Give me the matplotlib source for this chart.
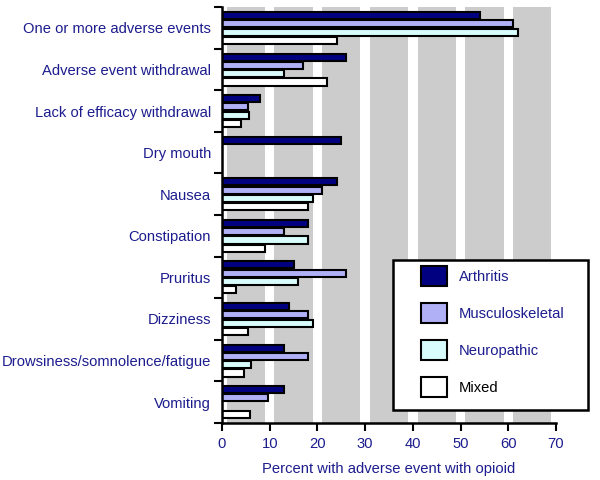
import matplotlib
matplotlib.use("Agg")
import matplotlib.pyplot as plt
import numpy as np
from matplotlib.patches import Patch, Rectangle

categories = ["One or more adverse events", "Adverse event withdrawal",
              "Lack of efficacy withdrawal", "Dry mouth", "Nausea", "Constipation",
              "Pruritus", "Dizziness", "Drowsiness/somnolence/fatigue", "Vomiting"]
arthritis = [54, 26, 8, 25, 24, 18, 15, 14, 13, 13]
musculoskeletal = [61, 17, 5.5, 0, 21, 13, 26, 18, 18, 9.7]
neuropathic = [62, 13, 5.7, 0, 19, 18, 16, 19, 6, 0]
mixed = [24, 22, 4, 0, 18, 9, 3, 5.5, 4.7, 5.8]
series_names = ["Arthritis", "Musculoskeletal", "Neuropathic", "Mixed"]
x_ticks = [0, 10, 20, 30, 40, 50, 60, 70]

plt.rcParams['font.family'] = ['Liberation Sans', 'DejaVu Sans']
navy = '#1c1c8e'
colors = ['#000080', '#b0b0f6', '#d8fcfc', '#ffffff']

fig = plt.figure(figsize=(6, 4.8), dpi=100)
ax = fig.add_axes([0.37, 0.119, 0.5567, 0.866])

# background stripes
for s in range(0, 70, 10):
    ax.axvspan(s + 1, s + 9, color='#cccccc', lw=0, zorder=0)

y = np.arange(len(categories))
data = [arthritis, musculoskeletal, neuropathic, mixed]
offsets = [-0.3, -0.1, 0.1, 0.3]
for vals, off, c, name in zip(data, offsets, colors, series_names):
    v = np.array(vals, dtype=float)
    mask = v > 0
    ax.barh(y[mask] + off, v[mask], height=0.17, color=c, edgecolor='black',
            linewidth=1.5, zorder=3, label=name)

ax.set_xlim(0, 70)
ax.set_ylim(len(categories) - 0.5, -0.5)
ax.set_xticks(x_ticks)
ax.set_xticklabels([str(t) for t in x_ticks], color=navy, fontsize=10.6)
ax.set_yticks(np.arange(len(categories) + 1) - 0.5)
ax.set_yticklabels([])
ax.set_yticks(y, minor=True)
ax.set_yticklabels(categories, minor=True, color=navy, fontsize=10.6)
ax.tick_params(axis='y', which='minor', length=0, pad=8)
ax.tick_params(axis='y', which='major', length=6, width=1.5, direction='out')
ax.tick_params(axis='x', length=6, width=1.5, direction='out', pad=4)
for side in ['top', 'right']:
    ax.spines[side].set_visible(False)
for side in ['left', 'bottom']:
    ax.spines[side].set_linewidth(1.8)
    ax.spines[side].set_zorder(5)
ax.set_xlabel("Percent with adverse event with opioid", color=navy, fontsize=10.6, labelpad=8)

# legend frame
fx0, fy0, fx1, fy1 = 393 / 600, 1 - 410 / 480, 588 / 600, 1 - 260 / 480
frame = Rectangle((fx0, fy0), fx1 - fx0, fy1 - fy0, transform=fig.transFigure,
                  facecolor='white', edgecolor='black', linewidth=1.8, zorder=10)
fig.patches.append(frame)

handles = [Patch(facecolor=c, edgecolor='black', linewidth=1.5) for c in colors]
leg = fig.legend(handles, series_names, loc='upper left',
                 bbox_to_anchor=(421 / 600, 1 - 266 / 480), frameon=False,
                 fontsize=10.6, handlelength=1.75, handleheight=1.75,
                 labelspacing=1.13, borderpad=0, handletextpad=0.8,
                 borderaxespad=0)
leg.set_zorder(11)
for t, c in zip(leg.get_texts(), [navy, navy, navy, 'black']):
    t.set_color(c)

fig.savefig("out.png", dpi=100)
